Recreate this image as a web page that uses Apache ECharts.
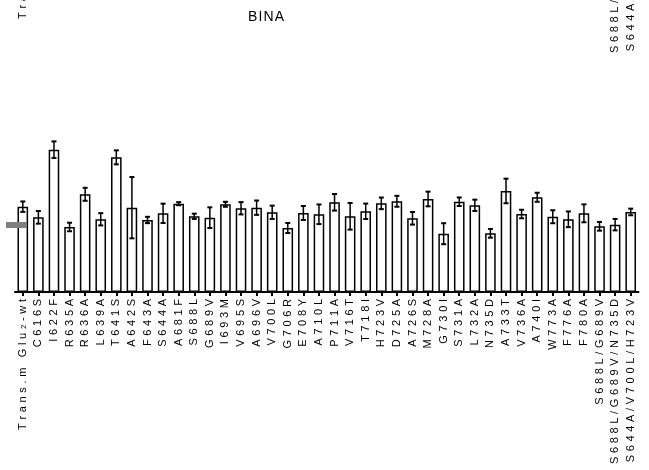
<!DOCTYPE html>
<html>
<head>
<meta charset="utf-8">
<script src="https://cdn.jsdelivr.net/npm/echarts@6/dist/echarts.min.js"></script>
<style>
  html, body { margin: 0; padding: 0; background: #fff; }
  #chart { width: 649px; height: 470px; }
</style>
</head>
<body>
<div id="chart"></div>
<script>
// Constructs tested (x axis)
const categories = [
  'Trans.m Glu2-wt', 'C616S', 'I622F', 'R635A', 'R636A', 'L639A', 'T641S', 'A642S',
  'F643A', 'S644A', 'A681F', 'S688L', 'G689V', 'I693M', 'V695S', 'A696V', 'V700L',
  'G706R', 'E708Y', 'A710L', 'P711A', 'V716T', 'T718I', 'H723V', 'D725A', 'A726S',
  'M728A', 'G730I', 'S731A', 'L732A', 'N735D', 'A733T', 'V736A', 'A740I', 'W773A',
  'F776A', 'F780A', 'S688L/G689V', 'S688L/G689V/N735D', 'S644A/V700L/H723V'
];

// Response, % of wild type (mean)
const meanValues = [
  100.0, 87.5, 166.8, 76.2, 114.5, 85.2, 157.8, 98.8,
  84.4, 92.2, 103.5, 88.7, 87.1, 102.8, 98.1, 98.8, 93.4,
  75.0, 92.6, 91.1, 105.1, 88.7, 94.6, 103.9, 106.3, 86.4,
  109.0, 68.3, 105.8, 101.6, 68.8, 118.4, 91.4, 111.0, 88.2,
  85.2, 92.2, 77.0, 78.9, 93.8
];

// Standard error of the mean
const semValues = [
  6.1, 7.4, 9.7, 5.0, 7.6, 7.2, 8.2, 35.9,
  3.7, 11.3, 1.8, 3.1, 12.1, 2.9, 7.2, 8.4, 7.8,
  5.9, 8.2, 11.5, 9.7, 15.6, 9.0, 6.8, 6.4, 7.4,
  8.6, 12.3, 5.0, 6.6, 5.1, 14.4, 5.0, 5.3, 7.6,
  9.2, 10.5, 5.1, 6.7, 3.9
];

// Level flagged by the grey marker at the left edge
const referenceLevel = 78.5;

const chartTitle = 'BINA';

const FONT = "'Liberation Sans', Arial, Helvetica, sans-serif";
const GAP = '\u2004';
const spaced = (s, gap) => Array.from(s).join(gap || GAP);

// Category labels are drawn letter-spaced; the "2" of Glu2 is set smaller
function labelFormatter(value) {
  const m = value.match(/^(.*Glu)2(.*)$/);
  if (m) {
    return '{n|' + spaced(m[1]) + GAP + '}{s|2}{n|' + GAP + spaced(m[2]) + '}';
  }
  return '{n|' + spaced(value) + '}';
}

const labelStyle = {
  interval: 0,
  rotate: 90,
  margin: 7,
  color: '#000',
  fontFamily: FONT,
  fontSize: 11,
  formatter: labelFormatter,
  rich: {
    n: { fontFamily: FONT, fontSize: 11, color: '#000' },
    s: { fontFamily: FONT, fontSize: 8, color: '#000', verticalAlign: 'bottom' }
  }
};

const chart = echarts.init(document.getElementById('chart'), null, { renderer: 'canvas' });

chart.setOption({
  animation: false,
  backgroundColor: '#fff',
  title: {
    text: spaced(chartTitle, '\u200A'),
    left: 243,
    top: 5,
    textStyle: { fontFamily: FONT, fontSize: 14, fontWeight: 'normal', color: '#000' }
  },
  grid: [
    { left: 15, right: 10.5, top: 100, bottom: 178, outerBoundsMode: 'none', containLabel: false },
    // panel above, only the lower ends of its labels fall inside the page
    { left: 15, right: 10.5, top: -262, height: 143, outerBoundsMode: 'none', containLabel: false }
  ],
  xAxis: [
    {
      type: 'category',
      gridIndex: 0,
      data: categories,
      axisLine: { show: true, lineStyle: { color: '#000', width: 2 } },
      axisTick: { show: true, alignWithLabel: true, length: 4, lineStyle: { color: '#000', width: 2 } },
      axisLabel: labelStyle,
      splitLine: { show: false }
    },
    {
      type: 'category',
      gridIndex: 1,
      data: categories,
      axisLine: { show: false },
      axisTick: { show: false },
      axisLabel: labelStyle,
      splitLine: { show: false }
    }
  ],
  yAxis: [
    { type: 'value', gridIndex: 0, min: 0, max: 225, show: false },
    { type: 'value', gridIndex: 1, min: 0, max: 1, show: false }
  ],
  series: [
    {
      type: 'bar',
      xAxisIndex: 0,
      yAxisIndex: 0,
      data: meanValues,
      barWidth: '68%',
      itemStyle: { color: '#fff', borderColor: '#000', borderWidth: 1.5 },
      emphasis: { disabled: true }
    },
    {
      type: 'custom',
      xAxisIndex: 0,
      yAxisIndex: 0,
      data: categories.map((c, i) => [i, meanValues[i], semValues[i]]),
      z: 3,
      renderItem: function (params, api) {
        const idx = api.value(0);
        const m = api.value(1);
        const e = api.value(2);
        const hi = api.coord([idx, m + e]);
        const lo = api.coord([idx, m - e]);
        const cx = hi[0];
        const hw = 2.5;
        return {
          type: 'group',
          children: [
            { type: 'line', shape: { x1: cx, y1: hi[1], x2: cx, y2: lo[1] }, style: { stroke: '#000', lineWidth: 1.5 } },
            { type: 'line', shape: { x1: cx - hw, y1: hi[1], x2: cx + hw, y2: hi[1] }, style: { stroke: '#000', lineWidth: 2 } },
            { type: 'line', shape: { x1: cx - hw, y1: lo[1], x2: cx + hw, y2: lo[1] }, style: { stroke: '#000', lineWidth: 2 } }
          ]
        };
      }
    }
  ]
});

// Grey marker at the reference level, placed through the value axis
const refY = chart.convertToPixel({ yAxisIndex: 0 }, referenceLevel);
chart.setOption({
  graphic: [{
    type: 'rect',
    z: 100,
    shape: { x: 6, y: refY - 3, width: 21, height: 6 },
    style: { fill: '#808080' }
  }]
});
</script>
</body>
</html>
